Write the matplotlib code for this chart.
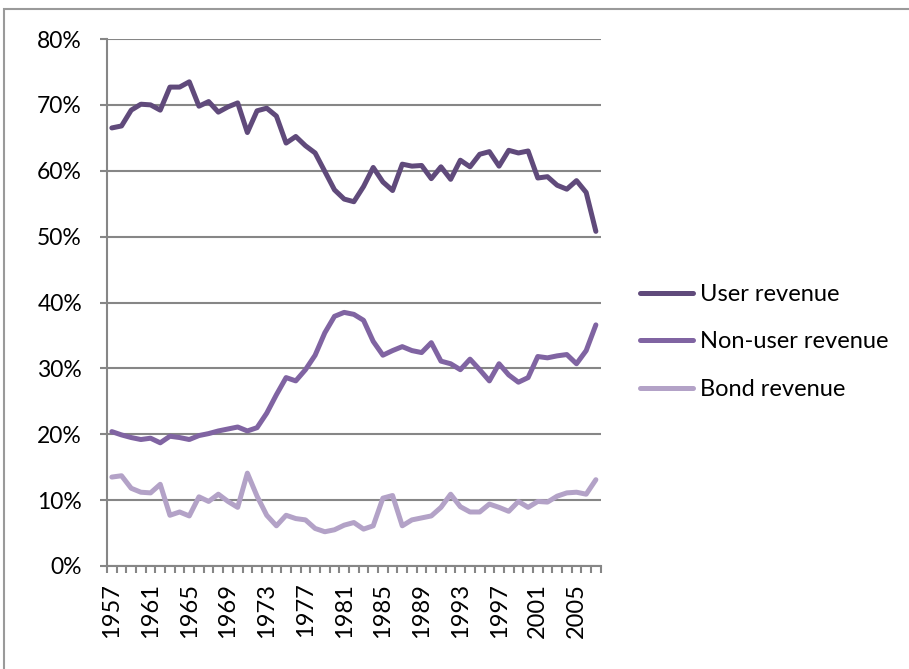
import numpy as np
import matplotlib
matplotlib.use("Agg")
import matplotlib.pyplot as plt
from matplotlib.patches import Rectangle
from matplotlib.ticker import FuncFormatter

plt.rcParams['font.family'] = ['Lato', 'DejaVu Sans']

# Share of revenue by source, 1957-2007 (fractions)
years = list(range(1957, 2008))
user_revenue = [
    66.5, 66.8, 69.2, 70.1, 70.0, 69.2, 72.7, 72.7, 73.5, 69.8,
    70.5, 68.9, 69.7, 70.3, 65.8, 69.1, 69.5, 68.3, 64.2, 65.2,
    63.8, 62.7, 59.9, 57.1, 55.7, 55.3, 57.6, 60.5, 58.3, 57.0,
    61.0, 60.7, 60.8, 58.8, 60.6, 58.7, 61.6, 60.6, 62.5, 62.9,
    60.7, 63.1, 62.7, 63.0, 58.9, 59.1, 57.8, 57.2, 58.5, 56.7,
    50.8,
]
non_user_revenue = [
    20.4, 19.9, 19.5, 19.2, 19.4, 18.7, 19.7, 19.5, 19.2, 19.8,
    20.1, 20.5, 20.8, 21.1, 20.5, 21.0, 23.2, 26.0, 28.6, 28.1,
    29.8, 32.0, 35.4, 37.9, 38.5, 38.2, 37.3, 34.1, 32.0, 32.7,
    33.3, 32.7, 32.4, 33.9, 31.1, 30.7, 29.8, 31.4, 29.8, 28.1,
    30.7, 29.0, 27.9, 28.6, 31.8, 31.6, 31.9, 32.1, 30.7, 32.7,
    36.6,
]
bond_revenue = [
    13.5, 13.7, 11.8, 11.2, 11.1, 12.4, 7.7, 8.2, 7.6, 10.5,
    9.8, 10.9, 9.8, 8.9, 14.1, 10.6, 7.7, 6.1, 7.7, 7.2,
    7.0, 5.7, 5.2, 5.5, 6.2, 6.6, 5.6, 6.1, 10.3, 10.7,
    6.1, 7.0, 7.3, 7.6, 8.9, 10.9, 9.0, 8.2, 8.2, 9.4,
    8.9, 8.3, 9.8, 8.9, 9.8, 9.7, 10.6, 11.1, 11.2, 10.9,
    13.1,
]
series_names = ['User revenue', 'Non-user revenue', 'Bond revenue']
series_colors = ['#604A7B', '#8064A2', '#B3A2C7']

W, H = 909, 669
fig = plt.figure(figsize=(W / 100, H / 100), dpi=100)
ax = fig.add_axes([107 / W, 1 - 566 / H, (600.7 - 107) / W, (566 - 39) / H])

x = np.arange(len(years))
for vals, name, col in zip([user_revenue, non_user_revenue, bond_revenue],
                           series_names, series_colors):
    ax.plot(x, np.array(vals) / 100, color=col, lw=3.6, label=name,
            solid_capstyle='round', solid_joinstyle='round')

grid_col = '#868686'
ax.set_xlim(-0.5, len(years) - 0.5)
ax.set_ylim(0, 0.8)
ax.set_yticks(np.arange(0, 0.81, 0.1))
ax.yaxis.set_major_formatter(FuncFormatter(lambda v, p: f'{v * 100:.0f}%'))
ax.yaxis.grid(True, color=grid_col, lw=1.5)
ax.set_axisbelow(True)
ax.tick_params(axis='y', length=5, width=1.5, color=grid_col, labelsize=16.5, pad=13)

# category labels every 4 years, tick marks between categories
ax.set_xticks(x[::4])
ax.set_xticklabels([str(y) for y in years[::4]], rotation=90, fontsize=17)
ax.set_xticks(np.arange(-0.5, len(years)), minor=True)
ax.tick_params(axis='x', which='major', length=0, pad=12)
ax.tick_params(axis='x', which='minor', length=5, width=1.5, color=grid_col)

for s in ['top', 'right']:
    ax.spines[s].set_visible(False)
for s in ['left', 'bottom']:
    ax.spines[s].set_color(grid_col)
    ax.spines[s].set_linewidth(1.5)

ax.legend(loc='center left', bbox_to_anchor=(0.681, 0.489), bbox_transform=fig.transFigure,
          frameon=False, fontsize=17, handlelength=2.25, handletextpad=0.3,
          labelspacing=1.12)

# chart border (only left and top edges fall inside the picture)
fig.add_artist(Rectangle((4 / W, -0.5), 2, 1 - 9 / H + 0.5, transform=fig.transFigure,
                         fill=False, edgecolor='#9a9a9a', lw=1.5))

fig.savefig('out.png', dpi=100)
